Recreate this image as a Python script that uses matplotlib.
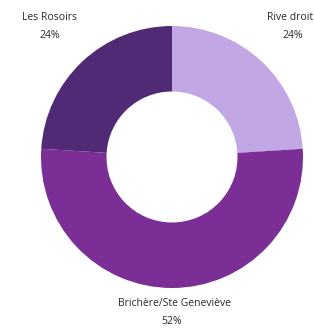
import matplotlib
matplotlib.use("Agg")
import matplotlib.pyplot as plt

labels = ["Rive droit", "Brichère/Ste Geneviève", "Les Rosoirs"]
values = [24, 52, 24]
colors = ["#c1a7e3", "#7b2e95", "#512a76"]

W, H = 314, 329
fig = plt.figure(figsize=(W / 100, H / 100), dpi=100)
ax = fig.add_axes([0, 0, 1, 1])

cx, cy, r = 172, H - 157, 131
ax.pie(values, colors=colors, startangle=90, counterclock=False,
       center=(cx, cy), radius=r, frame=True,
       wedgeprops=dict(width=r * 0.5, edgecolor="none", linewidth=0))
ax.set_xlim(0, W)
ax.set_ylim(0, H)
ax.set_aspect("equal")
ax.axis("off")

font = dict(family=["Open Sans", "DejaVu Sans"], fontsize=7.5, color="#2a2a2a",
            ha="center", va="center")
pos = [(290, 17.5, 293, 35.5), (174, 304, 172, 322), (49, 17.5, 49.5, 35.5)]
for lab, v, (lx, ly, px, py) in zip(labels, values, pos):
    ax.text(lx, H - ly, lab, **font)
    ax.text(px, H - py, f"{v}%", **font)

fig.savefig("out.png", dpi=100)
